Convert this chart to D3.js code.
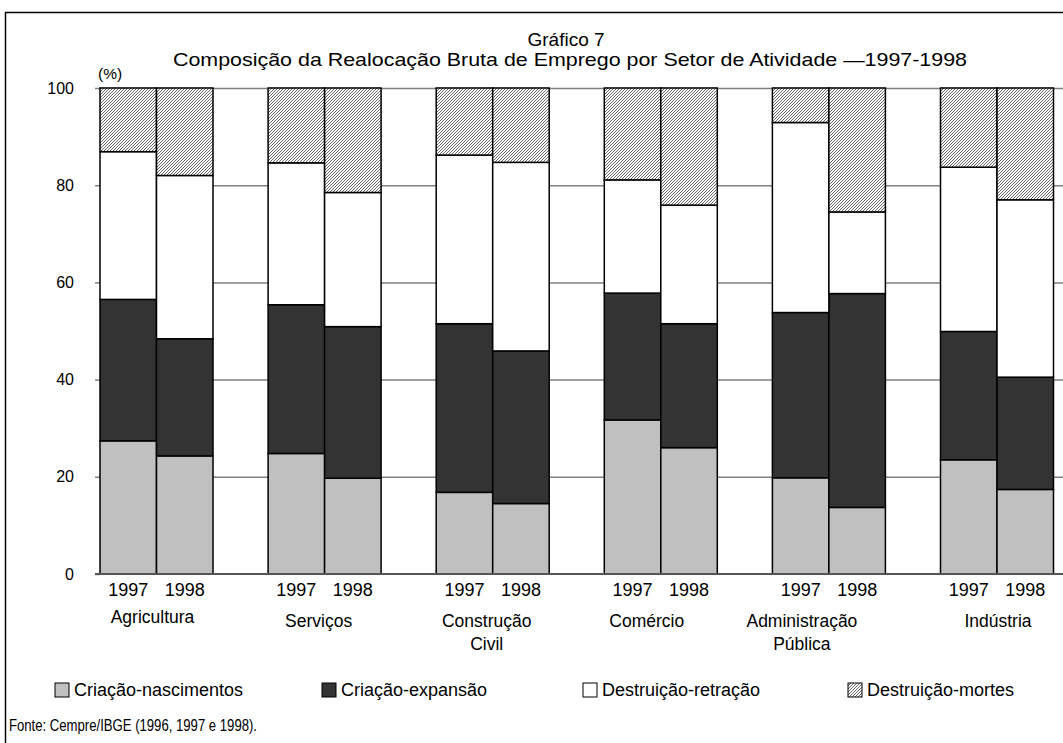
<!DOCTYPE html>
<html>
<head>
<meta charset="utf-8">
<script src="https://cdn.jsdelivr.net/npm/d3@7"></script>
<style>
  body { margin: 0; background: #fff; }
  text { font-family: "Liberation Sans", Arial, sans-serif; fill: #000; }
</style>
</head>
<body>
<svg></svg>
<script>
var width = 1063;
var height = 743;

// data
var sectors = ["Agricultura", "Serviços", "Construção Civil", "Comércio", "Administração Pública", "Indústria"];
var sectorLines = [["Agricultura"], ["Serviços"], ["Construção", "Civil"], ["Comércio"], ["Administração", "Pública"], ["Indústria"]];
var years = ["1997", "1998"];
var seriesNames = ["Criação-nascimentos", "Criação-expansão", "Destruição-retração", "Destruição-mortes"];
// one value per bar: sector by sector, 1997 then 1998
var nascimentos = [27.4, 24.3, 24.8, 19.7, 16.8, 14.5, 31.7, 26.0, 19.8, 13.7, 23.5, 17.4];
var expansao    = [29.1, 24.1, 30.6, 31.2, 34.7, 31.4, 26.1, 25.5, 34.0, 44.0, 26.4, 23.1];
var retracao    = [30.4, 33.6, 29.2, 27.6, 34.7, 38.8, 23.3, 24.4, 39.1, 16.8, 33.8, 36.5];
var mortes      = [13.1, 18.0, 15.4, 21.5, 13.8, 15.3, 18.9, 24.1, 7.1, 25.5, 16.3, 23.0];
var yTicks = [0, 20, 40, 60, 80, 100];

// label nudges to sit like the original
var labelDx = [-4, -6, -6, -14, -27, 1];
var labelY = [623, 627, 627, 627, 627, 627];

var fills = ["#c0c0c0", "#333333", "#ffffff", "url(#hatch)"];

var rows = [];
sectors.forEach(function(s, i) {
  years.forEach(function(yr, j) {
    var k = i * 2 + j;
    rows.push({
      sector: s, year: yr,
      "Criação-nascimentos": nascimentos[k],
      "Criação-expansão": expansao[k],
      "Destruição-retração": retracao[k],
      "Destruição-mortes": mortes[k]
    });
  });
});

var stacked = d3.stack().keys(seriesNames)(rows);

var svg = d3.select("svg")
    .attr("width", width)
    .attr("height", height);

var defs = svg.append("defs");
var pat = defs.append("pattern")
    .attr("id", "hatch")
    .attr("patternUnits", "userSpaceOnUse")
    .attr("width", 3)
    .attr("height", 3);
pat.append("rect").attr("width", 3).attr("height", 3).attr("fill", "#fff");
pat.append("path")
    .attr("d", "M-1,1 l2,-2 M0,3 l3,-3 M2,4 l2,-2")
    .attr("stroke", "#555")
    .attr("stroke-width", 0.9);

// outer frame
svg.append("rect")
    .attr("x", 5.5).attr("y", 12.5)
    .attr("width", width + 20).attr("height", height + 20)
    .attr("fill", "none")
    .attr("stroke", "#000")
    .attr("stroke-width", 1.5);

var plotLeft = 100;
var step = 168.1;

var x0 = d3.scaleBand()
    .domain(sectors)
    .range([plotLeft, plotLeft + step * sectors.length])
    .padding(0);

var x1 = d3.scaleBand()
    .domain(years)
    .range([0, 113])
    .padding(0);

var y = d3.scaleLinear()
    .domain([0, 100])
    .range([574, 88]);

// gridlines
svg.append("g")
    .attr("class", "grid")
    .attr("transform", "translate(" + plotLeft + ",0)")
    .call(d3.axisLeft(y).tickValues(yTicks.slice(1)).tickSize(-(width - plotLeft)).tickFormat(""))
    .call(g => g.select(".domain").remove())
    .call(g => g.selectAll("line").attr("stroke", "#808080").attr("stroke-width", 1.5));

// tick marks and labels
svg.append("g")
    .attr("transform", "translate(" + plotLeft + ",0)")
    .call(d3.axisLeft(y).tickValues(yTicks).tickSize(5).tickPadding(21))
    .call(g => g.select(".domain").remove())
    .call(g => g.selectAll("line").attr("stroke", "#808080").attr("stroke-width", 1.5))
    .call(g => g.selectAll("text").attr("font-size", 16).attr("font-family", "Liberation Sans, Arial, sans-serif"));

svg.append("text")
    .attr("x", 98)
    .attr("y", 79)
    .attr("font-size", 15.5)
    .text("(%)");

// bars
var layers = svg.append("g")
  .selectAll("g")
  .data(stacked)
  .enter()
  .append("g")
    .attr("fill", (d, i) => fills[i]);

layers.selectAll("rect")
  .data(d => d)
  .enter()
  .append("rect")
    .attr("x", d => x0(d.data.sector) + x1(d.data.year))
    .attr("width", x1.bandwidth())
    .attr("y", d => y(d[1]))
    .attr("height", d => y(d[0]) - y(d[1]))
    .attr("stroke", "#000")
    .attr("stroke-width", 1.5);

// baseline
svg.append("line")
    .attr("x1", plotLeft - 5).attr("x2", width)
    .attr("y1", y(0)).attr("y2", y(0))
    .attr("stroke", "#555")
    .attr("stroke-width", 2);

// year labels
svg.append("g")
  .selectAll("text")
  .data(rows)
  .enter()
  .append("text")
    .attr("x", d => x0(d.sector) + x1(d.year) + x1.bandwidth() / 2)
    .attr("y", 596)
    .attr("text-anchor", "middle")
    .attr("font-size", 18)
    .text(d => d.year);

// sector labels
var sl = svg.append("g")
  .selectAll("text")
  .data(sectors)
  .enter()
  .append("text")
    .attr("text-anchor", "middle")
    .attr("font-size", 17.5)
    .attr("transform", (d, i) => "translate(" + (x0(d) + 56.5 + labelDx[i]) + "," + labelY[i] + ")");

sl.selectAll("tspan")
  .data((d, i) => sectorLines[i])
  .enter()
  .append("tspan")
    .attr("x", 0)
    .attr("y", (d, i) => i * 23)
    .text(d => d);

// title
svg.append("text")
    .attr("x", 566)
    .attr("y", 46)
    .attr("text-anchor", "middle")
    .attr("font-size", 19)
    .text("Gráfico 7");

svg.append("text")
    .attr("x", 570)
    .attr("y", 66)
    .attr("text-anchor", "middle")
    .attr("font-size", 19)
    .attr("textLength", 794)
    .attr("lengthAdjust", "spacingAndGlyphs")
    .text("Composição da Realocação Bruta de Emprego por Setor de Atividade —1997-1998");

// legend
var legendX = [55, 322, 583, 848];
var legend = svg.append("g")
  .selectAll("g")
  .data(seriesNames)
  .enter()
  .append("g")
    .attr("transform", (d, i) => "translate(" + legendX[i] + ",683)");

legend.append("rect")
    .attr("width", 14)
    .attr("height", 14)
    .attr("fill", (d, i) => fills[i])
    .attr("stroke", "#000")
    .attr("stroke-width", 1);

legend.append("text")
    .attr("x", 19)
    .attr("y", 12.5)
    .attr("font-size", 18)
    .text(d => d);

svg.append("text")
    .attr("x", 9)
    .attr("y", 731)
    .attr("font-size", 16)
    .attr("textLength", 248)
    .attr("lengthAdjust", "spacingAndGlyphs")
    .text("Fonte:  Cempre/IBGE (1996, 1997 e 1998).");
</script>
</body>
</html>
